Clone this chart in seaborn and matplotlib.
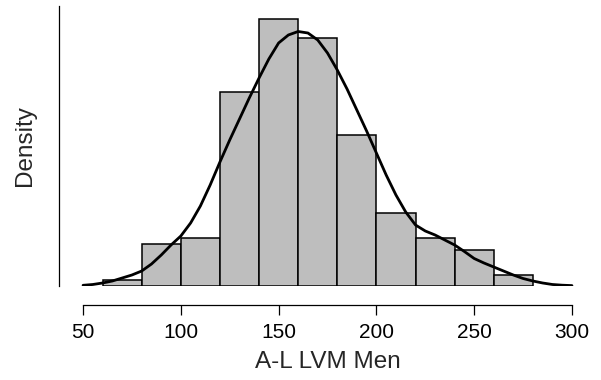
import numpy as np
import seaborn as sns
import matplotlib.pyplot as plt

# histogram bins (width 20) and bar heights (density)
bin_edges = [60, 80, 100, 120, 140, 160, 180, 200, 220, 240, 260, 280]
bar_density = [0.00025, 0.00186, 0.00214, 0.00863, 0.01187, 0.01104,
               0.00674, 0.00324, 0.00214, 0.00160, 0.00050]

# density curve
kde_x = [50, 55, 60, 65, 70, 75, 80, 85, 90, 95, 100, 105, 110, 115, 120, 125,
         130, 135, 140, 145, 150, 155, 160, 165, 170, 175, 180, 185, 190, 195,
         200, 205, 210, 215, 220, 225, 230, 235, 240, 245, 250, 255, 260, 265,
         270, 275, 280, 285, 290, 295, 300]
kde_y = [0.000031, 0.000067, 0.000134, 0.000223, 0.000356, 0.000490, 0.000668,
         0.000979, 0.001380, 0.001825, 0.002225, 0.002804, 0.003560, 0.004495,
         0.005519, 0.006498, 0.007432, 0.008367, 0.009257, 0.010102, 0.010815,
         0.011171, 0.011326, 0.011259, 0.010948, 0.010369, 0.009613, 0.008767,
         0.007833, 0.006898, 0.005919, 0.004940, 0.004050, 0.003293, 0.002715,
         0.002448, 0.002270, 0.002047, 0.001825, 0.001535, 0.001224, 0.001024,
         0.000846, 0.000668, 0.000490, 0.000334, 0.000223, 0.000134, 0.000067,
         0.000036, 0.000018]

x_ticks = [50, 100, 150, 200, 250, 300]

sns.set_style("white")
plt.rcParams['font.family'] = ['Liberation Sans', 'DejaVu Sans']

fig = plt.figure(figsize=(6.01, 3.80), dpi=100)
ax = fig.add_axes([59 / 601, 94 / 380, 537 / 601, 280 / 380])

centers = [(a + b) / 2 for a, b in zip(bin_edges[:-1], bin_edges[1:])]
sns.histplot(x=centers, weights=bar_density, bins=bin_edges, color='#bebebe',
             edgecolor='black', linewidth=1.1, alpha=1, ax=ax)
sns.lineplot(x=kde_x, y=kde_y, color='black', linewidth=2, ax=ax)

ax.set_xlim(37.7, 312.3)
ax.set_ylim(0, 0.012461)

ax.spines['top'].set_visible(False)
ax.spines['right'].set_visible(False)
ax.spines['left'].set_color('black')
ax.spines['left'].set_linewidth(0.9)
ax.spines['bottom'].set_color('black')
ax.spines['bottom'].set_linewidth(0.9)
ax.spines['bottom'].set_position(('outward', 14))
ax.spines['bottom'].set_bounds(50, 300)

ax.set_yticks([])
ax.set_xticks(x_ticks)
ax.tick_params(axis='x', bottom=True, direction='out', length=7.5, width=0.9,
               pad=5, labelsize=15, colors='black')

ax.set_xlabel('A-L LVM Men', fontsize=17.5)
ax.set_ylabel('Density', fontsize=17.5)
ax.xaxis.set_label_coords(0.5, -0.232)
ax.yaxis.set_label_coords(-0.043, 0.5)

fig.savefig('out.png', dpi=100)
